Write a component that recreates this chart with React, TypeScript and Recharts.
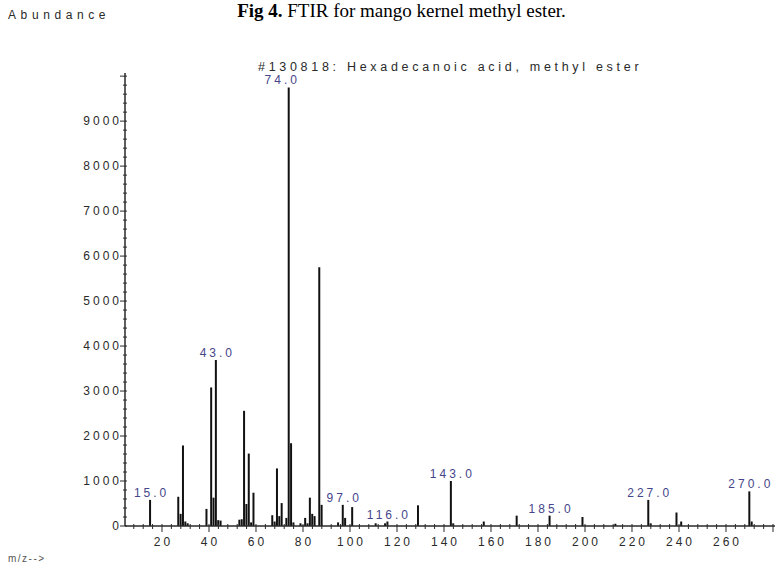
import React from "react";
import { BarChart, Bar, XAxis, YAxis } from "recharts";

// m/z values of the spectrum lines
const mzValues = [
  15, 27, 28, 29, 30, 31, 39, 41, 42, 43, 44, 45, 53, 54, 55, 56, 57, 58, 59, 67, 68, 69, 70, 71, 73, 74, 75, 76,
  79, 81, 82, 83, 84, 85, 87, 88, 95, 97, 98, 101, 111, 115, 116, 129, 143, 144, 157, 171, 185, 199, 213, 227,
  228, 239, 241, 270, 271,
];
// abundance, same order as mzValues
const abundances = [
  580, 650, 270, 1790, 100, 60, 380, 3080, 630, 3690, 130, 120, 140, 150, 2560, 490, 1610, 80, 740, 240, 100, 1280,
  220, 510, 180, 9750, 1840, 80, 60, 180, 60, 630, 270, 220, 5750, 470, 80, 470, 180, 420, 60, 60, 100, 460, 1000,
  60, 100, 230, 230, 200, 50, 580, 60, 300, 100, 770, 100,
];
// peaks that carry an m/z label
const labelledPeaks = [15, 43, 74, 97, 116, 143, 185, 227, 270];

const xTicks = Array.from({ length: 69 }, (_, i) => 8 + i * 4);
const yTicks = Array.from({ length: 51 }, (_, i) => i * 200);

const data = mzValues.map((mz, i) => ({ mz, abundance: abundances[i] }));

const SANS = "'Liberation Sans', Arial, sans-serif";
const INK = "#2a2a2a";
const LABEL_BLUE = "#45458a";

function XTick({ x, y, payload }: any) {
  const v = payload.value;
  const major = v % 20 === 0;
  return (
    <g>
      <line x1={x} x2={x} y1={y - 2} y2={y + (major ? 6 : 3)} stroke={INK} strokeWidth={1} />
      {major && v <= 260 && (
        <text x={x + 1.5} y={y + 20} textAnchor="middle" fontSize={12} fill={INK} style={{ letterSpacing: 3, fontFamily: SANS }}>
          {v}
        </text>
      )}
    </g>
  );
}

function YTick({ x, y, payload }: any) {
  const v = payload.value;
  const major = v % 1000 === 0;
  return (
    <g>
      <line x1={x - (major ? 5 : 2)} x2={x + 2} y1={y} y2={y} stroke={INK} strokeWidth={1} />
      {major && v <= 9000 && (
        <text x={x - 3} y={y + 4} textAnchor="end" fontSize={12} fill={INK} style={{ letterSpacing: 3, fontFamily: SANS }}>
          {v}
        </text>
      )}
    </g>
  );
}

function PeakLabel(props: any) {
  const { x, y, width, index } = props;
  const mz = data[index]?.mz;
  if (!labelledPeaks.includes(mz)) return null;
  const shift = mz === 74 ? -8 : 0;
  return (
    <text
      x={x + width / 2 + shift + 1.5}
      y={y - 3}
      textAnchor="middle"
      fontSize={12}
      fill={LABEL_BLUE}
      style={{ letterSpacing: 3, fontFamily: SANS }}
    >
      {mz.toFixed(1)}
    </text>
  );
}

export default function App() {
  return (
    <div style={{ position: "relative", width: 775, height: 572, background: "#fff", overflow: "hidden" }}>
      <style>{"body{margin:0}"}</style>
      <div
        style={{
          position: "absolute",
          left: 0,
          width: 775,
          top: 0,
          textAlign: "center",
          fontFamily: "'Liberation Serif', 'Times New Roman', serif",
          fontSize: 19,
          lineHeight: "normal",
          color: "#000",
          paddingLeft: 28,
          boxSizing: "border-box",
          whiteSpace: "nowrap",
        }}
      >
        <b>Fig 4.</b> FTIR for mango kernel methyl ester.
      </div>
      <div style={{ position: "absolute", left: 8, top: 8, fontFamily: SANS, fontSize: 12, letterSpacing: 4.6, color: INK }}>
        Abundance
      </div>
      <div style={{ position: "absolute", left: 8, top: 553, fontFamily: SANS, fontSize: 10, letterSpacing: 1.5, color: "#555" }}>
        m/z--&gt;
      </div>
      <div
        style={{
          position: "absolute",
          left: 258,
          top: 60,
          fontFamily: SANS,
          fontSize: 12.5,
          lineHeight: "14px",
          letterSpacing: 3.7,
          color: INK,
          whiteSpace: "nowrap",
        }}
      >
        #130818: Hexadecanoic acid, methyl ester
      </div>
      <BarChart width={775} height={572} data={data} margin={{ top: 73, right: 0, bottom: 0, left: 0 }}>
        <XAxis
          type="number"
          dataKey="mz"
          domain={[4.26, 280.85]}
          allowDataOverflow
          ticks={xTicks}
          interval={0}
          height={46}
          tickSize={0}
          tickMargin={0}
          axisLine={{ stroke: INK, strokeWidth: 1.5 }}
          tick={<XTick />}
        />
        <YAxis
          type="number"
          domain={[0, 10070]}
          allowDataOverflow
          ticks={yTicks}
          interval={0}
          width={125}
          tickSize={0}
          tickMargin={0}
          axisLine={{ stroke: INK, strokeWidth: 1.5 }}
          tick={<YTick />}
        />
        <Bar dataKey="abundance" barSize={2} fill="#111" isAnimationActive={false} label={<PeakLabel />} />
      </BarChart>
    </div>
  );
}
